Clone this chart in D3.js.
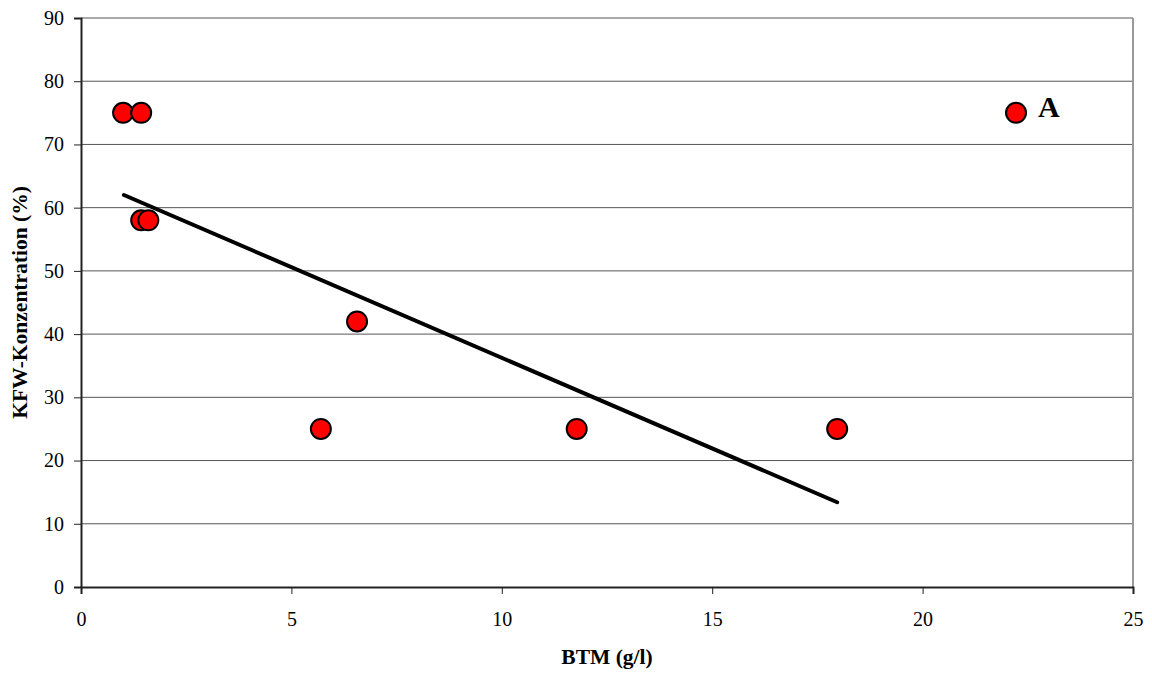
<!DOCTYPE html>
<html>
<head>
<meta charset="utf-8">
<script src="https://cdn.jsdelivr.net/npm/d3@7"></script>
<style>
  html, body { margin: 0; padding: 0; background: #fff; }
  svg { display: block; font-family: "Liberation Serif", "Times New Roman", serif; }
</style>
</head>
<body>
<svg id="chart" width="1152" height="673"></svg>
<script>
// BTM (g/l) vs. KFW concentration (%)
const btm = [1.0, 1.43, 1.43, 1.6, 5.7, 6.56, 11.78, 17.97, 22.22];
const kfw = [75, 75, 58, 58, 25, 42, 25, 25, 75];
const pointLabels = ["", "", "", "", "", "", "", "", "A"];
// linear trend line endpoints
const trendX = [1.02, 17.97];
const trendY = [62.0, 13.4];
const xTicks = [0, 5, 10, 15, 20, 25];
const yTicks = [0, 10, 20, 30, 40, 50, 60, 70, 80, 90];

const svg = d3.select("#chart");
const m = { left: 81, right: 1133, top: 18, bottom: 587 };

const x = d3.scaleLinear().domain([0, 25]).range([m.left, m.right]);
const y = d3.scaleLinear().domain([0, 90]).range([m.bottom, m.top]);

// horizontal gridlines
svg.append("g").selectAll("line")
  .data(yTicks.filter(d => d > 0))
  .join("line")
  .attr("x1", m.left).attr("x2", m.right)
  .attr("y1", d => y(d)).attr("y2", d => y(d))
  .attr("stroke", "#555").attr("stroke-width", 1);

// right frame edge
svg.append("line")
  .attr("x1", m.right).attr("x2", m.right)
  .attr("y1", m.top).attr("y2", m.bottom)
  .attr("stroke", "#999").attr("stroke-width", 2);

// axes
const xAxis = svg.append("g")
  .attr("transform", `translate(0,${m.bottom})`)
  .call(d3.axisBottom(x).tickValues(xTicks).tickSize(7).tickPadding(18).tickFormat(d3.format("d")));
const yAxis = svg.append("g")
  .attr("transform", `translate(${m.left},0)`)
  .call(d3.axisLeft(y).tickValues(yTicks).tickSize(7).tickPadding(10).tickFormat(d3.format("d")));

[xAxis, yAxis].forEach(a => {
  a.select(".domain").attr("stroke", "#222").attr("stroke-width", 2);
  a.selectAll(".tick line").attr("stroke", "#222").attr("stroke-width", 1);
  a.selectAll(".tick text")
    .attr("fill", "#000")
    .style("font-family", '"Liberation Serif", "Times New Roman", serif')
    .style("font-size", "20px");
});

// trend line
svg.append("line")
  .attr("x1", x(trendX[0])).attr("y1", y(trendY[0]))
  .attr("x2", x(trendX[1])).attr("y2", y(trendY[1]))
  .attr("stroke", "#000").attr("stroke-width", 4)
  .attr("stroke-linecap", "round");

// data points
const pts = btm.map((v, i) => ({ x: v, y: kfw[i], label: pointLabels[i] }));
svg.append("g").selectAll("circle")
  .data(pts)
  .join("circle")
  .attr("cx", d => x(d.x)).attr("cy", d => y(d.y))
  .attr("r", 10)
  .attr("fill", "#ff0000").attr("stroke", "#000").attr("stroke-width", 2);

// point annotations
svg.append("g").selectAll("text")
  .data(pts.filter(d => d.label))
  .join("text")
  .attr("x", d => x(d.x) + 22).attr("y", d => y(d.y) + 4.5)
  .attr("font-size", 30).attr("font-weight", "bold")
  .text(d => d.label);

// axis titles
svg.append("text")
  .attr("x", (m.left + m.right) / 2).attr("y", 664)
  .attr("text-anchor", "middle")
  .attr("font-size", 21.5).attr("font-weight", "bold")
  .text("BTM (g/l)");

svg.append("text")
  .attr("transform", `translate(27,${(m.top + m.bottom) / 2}) rotate(-90)`)
  .attr("text-anchor", "middle")
  .attr("font-size", 21.5).attr("font-weight", "bold")
  .text("KFW-Konzentration (%)");
</script>
</body>
</html>
